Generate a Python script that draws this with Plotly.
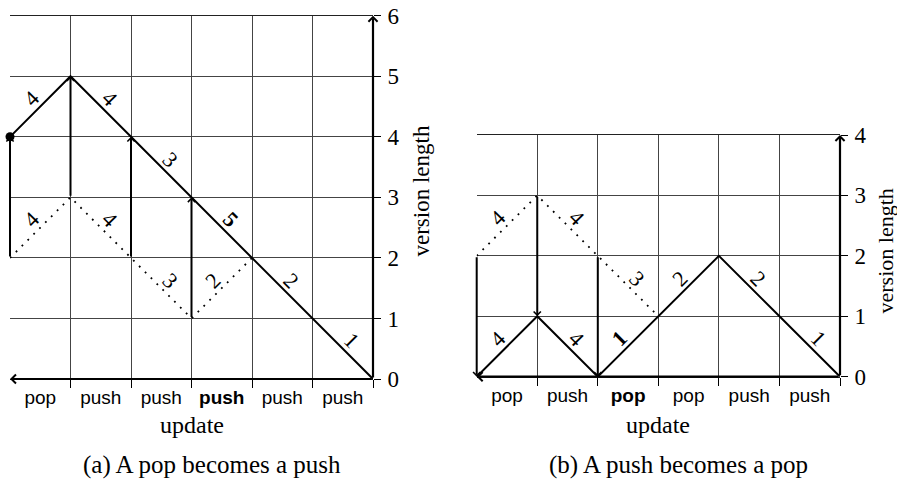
import plotly.graph_objects as go

# ---------------- data ----------------
grid_cols = [1, 2, 3, 4, 5, 6]
label_pos = [0.5, 1.5, 2.5, 3.5, 4.5, 5.5]

left_updates = ["pop", "push", "push", "push", "push", "push"]
left_bold = [False, False, False, True, False, False]
right_updates = ["pop", "push", "pop", "pop", "push", "push"]
right_bold = [False, False, True, False, False, False]

left_ymax = 6
right_ymax = 4

left_path_x = [0, 1, 2, 3, 4, 5, 6]
left_path_y = [4, 5, 4, 3, 2, 1, 0]
left_path_w = ["4", "4", "3", "5", "2", "1"]
left_path_wbold = [False, False, False, True, False, False]

left_old_x = [0, 1, 2, 3, 4]
left_old_y = [2, 3, 2, 1, 2]
left_old_w = ["4", "4", "3", "2"]

left_jump_x = [0, 1, 2, 3]
left_jump_from = [2, 3, 2, 1]
left_jump_to = [4, 5, 4, 3]

left_dot_x = [0]
left_dot_y = [4]

right_path_x = [0, 1, 2, 3, 4, 5, 6]
right_path_y = [0, 1, 0, 1, 2, 1, 0]
right_path_w = ["4", "4", "1", "2", "2", "1"]
right_path_wbold = [False, False, True, False, False, False]

right_old_x = [0, 1, 2, 3]
right_old_y = [2, 3, 2, 1]
right_old_w = ["4", "4", "3"]

right_jump_x = [0, 1, 2]
right_jump_from = [2, 3, 2]
right_jump_to = [0, 1, 0]

captions = ["(a) A pop becomes a push", "(b) A push becomes a pop"]
xtitle = "update"
ytitle = "version length"

# ---------------- layout helpers ----------------
W, H = 897, 482
SERIF = "Liberation Serif"
SANS = "Liberation Sans"


def px(x):
    return x / W


def py(y):
    return 1 - y / H


fig = go.Figure()
annotations = []


def panel(xa, ya, path_x, path_y, path_w, path_wb, old_x, old_y, old_w,
          jx, jfrom, jto, ymax):
    fig.add_trace(go.Scatter(x=path_x, y=path_y, mode="lines",
                             line=dict(color="black", width=2),
                             xaxis=xa, yaxis=ya, hoverinfo="skip",
                             showlegend=False))
    fig.add_trace(go.Scatter(x=old_x, y=old_y, mode="lines",
                             line=dict(color="black", width=1.8, dash="1.8px,6.5px"),
                             xaxis=xa, yaxis=ya, hoverinfo="skip",
                             showlegend=False))
    xr, yr = xa, ya

    def seg_labels(xs, ys, ws, bolds):
        for i in range(len(ws)):
            dy = ys[i + 1] - ys[i]
            mx = (xs[i] + xs[i + 1]) / 2
            my = (ys[i] + ys[i + 1]) / 2
            t = ws[i]
            if bolds is not None and bolds[i]:
                t = "<b>" + t + "</b>"
            annotations.append(dict(
                x=mx, y=my, xref=xr, yref=yr, text=t, showarrow=False,
                textangle=-45 if dy > 0 else 45,
                xshift=-9 * dy, yshift=8,
                font=dict(family=SERIF, size=22, color="black")))

    seg_labels(path_x, path_y, path_w, path_wb)
    seg_labels(old_x, old_y, old_w, None)

    for i in range(len(jx)):
        annotations.append(dict(
            x=jx[i], y=jto[i], ax=jx[i], ay=jfrom[i],
            xref=xr, yref=yr, axref=xr, ayref=yr, text="",
            showarrow=True, arrowhead=4, arrowsize=0.7, arrowwidth=2,
            arrowcolor="black", standoff=0))
    annotations.append(dict(
        x=0, y=0, ax=6, ay=0, xref=xr, yref=yr, axref=xr, ayref=yr,
        text="", showarrow=True, arrowhead=4, arrowsize=0.8, arrowwidth=2.2,
        arrowcolor="black", standoff=0))
    annotations.append(dict(
        x=6, y=ymax, ax=6, ay=0, xref=xr, yref=yr, axref=xr, ayref=yr,
        text="", showarrow=True, arrowhead=4, arrowsize=0.8, arrowwidth=2.2,
        arrowcolor="black", standoff=0))


panel("x", "y", left_path_x, left_path_y, left_path_w, left_path_wbold,
      left_old_x, left_old_y, left_old_w,
      left_jump_x, left_jump_from, left_jump_to, left_ymax)
panel("x2", "y2", right_path_x, right_path_y, right_path_w, right_path_wbold,
      right_old_x, right_old_y, right_old_w,
      right_jump_x, right_jump_from, right_jump_to, right_ymax)

fig.add_trace(go.Scatter(x=left_dot_x, y=left_dot_y, mode="markers",
                         marker=dict(color="black", size=9),
                         cliponaxis=False, hoverinfo="skip", showlegend=False))


def ticktext(labels, bold):
    return [("<b>" + l + "</b>") if b else l for l, b in zip(labels, bold)]


def xaxis_cfg(dom, labels, bold):
    return dict(domain=dom, range=[0, 6], showgrid=False, zeroline=False,
                automargin=False,
                showline=True, mirror=True, linecolor="#222", linewidth=1,
                tickmode="array", tickvals=label_pos,
                ticktext=ticktext(labels, bold), ticks="",
                ticklabelstandoff=1,
                tickfont=dict(family=SANS, size=19, color="black"),
                minor=dict(tickmode="array", tickvals=grid_cols, ticks="outside",
                           ticklen=8, tickwidth=1, tickcolor="black",
                           showgrid=True, gridcolor="#444", gridwidth=1),
                fixedrange=True)


def yaxis_cfg(dom, ymax, anchor):
    return dict(domain=dom, range=[0, ymax], side="right", anchor=anchor,
                automargin=False,
                tickmode="array", tickvals=list(range(ymax + 1)),
                ticks="outside", ticklen=7, tickwidth=1, tickcolor="black",
                ticklabelstandoff=2,
                showgrid=True, gridcolor="#444", gridwidth=1,
                zeroline=False, showline=False,
                tickfont=dict(family=SERIF, size=23, color="black"),
                fixedrange=True)


L_dom_x = [px(10), px(373)]
L_dom_y = [py(379), py(15.7)]
R_dom_x = [px(476.7), px(840)]
R_dom_y = [py(376.7), py(135)]

fig.update_layout(
    width=W, height=H,
    margin=dict(l=0, r=0, t=0, b=0, autoexpand=False),
    paper_bgcolor="white", plot_bgcolor="white",
    xaxis=xaxis_cfg(L_dom_x, left_updates, left_bold) | dict(anchor="y"),
    yaxis=yaxis_cfg(L_dom_y, left_ymax, "x"),
    xaxis2=xaxis_cfg(R_dom_x, right_updates, right_bold) | dict(anchor="y2"),
    yaxis2=yaxis_cfg(R_dom_y, right_ymax, "x2"),
    showlegend=False,
)

text_items = [
    (192, 425, xtitle, 0, 24),
    (658, 425, xtitle, 0, 24),
    (212, 465, captions[0], 0, 25),
    (678, 465, captions[1], 0, 25),
    (421, 191.5, ytitle, -90, 23),
    (885, 251.5, ytitle, -90, 22),
]
for x, y, t, ang, sz in text_items:
    annotations.append(dict(x=px(x), y=py(y), xref="paper", yref="paper",
                            text=t, showarrow=False, textangle=ang,
                            xanchor="center", yanchor="middle",
                            font=dict(family=SERIF, size=sz, color="black")))

fig.update_layout(annotations=annotations)
fig.write_html("out.html")
